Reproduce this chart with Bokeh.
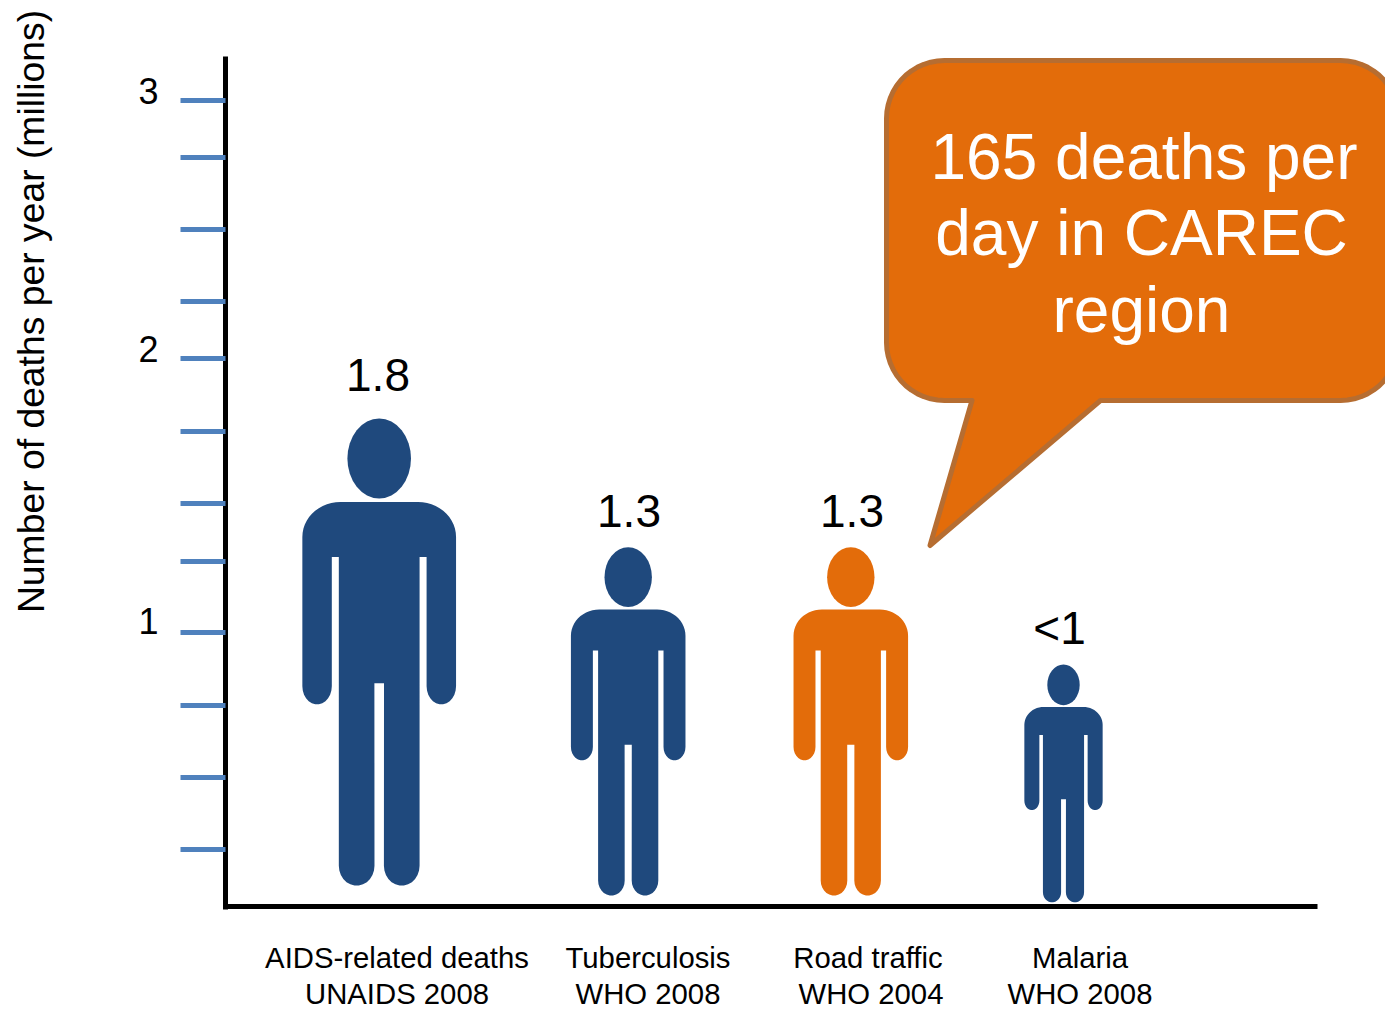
import numpy as np
from bokeh.core.properties import value
from bokeh.embed import file_html
from bokeh.models import FixedTicker
from bokeh.plotting import figure
from bokeh.resources import INLINE

# ---- data (deaths per year, millions) ----
causes = ["AIDS-related deaths", "Tuberculosis", "Road traffic", "Malaria"]
sources = ["UNAIDS 2008", "WHO 2008", "WHO 2004", "WHO 2008"]
value_labels = ["1.8", "1.3", "1.3", "<1"]
figure_tops = [1.78, 1.31, 1.31, 0.883]
figure_bases = [0.076, 0.04, 0.04, 0.015]
y_tick_values = [0.208, 0.471, 0.734, 1.0, 1.259, 1.471, 1.734, 2.0, 2.208, 2.471, 2.734, 2.942]
y_tick_texts = ["3", "2", "1"]
callout_lines = ["165 deaths per", "day in CAREC", "region"]
y_title = "Number of deaths per year (millions)"

# ---- layout ----
FONT = "Liberation Sans"
BLUE = "#1F497D"
ORANGE = "#E36C0A"
TICK_BLUE = "#4F81BD"
PX = 274.0            # pixels per million on the y axis
BASE_PX = 906.0       # page row of the zero line
def yv(px):
    return (BASE_PX - np.asarray(px, dtype=float)) / PX

slot_x = [378.7, 627.7, 850.3, 1063]
slot_color = [BLUE, BLUE, ORANGE, BLUE]
label_x = [377.5, 628.5, 851.5, 1059]
label_base_px = [392, 528, 528, 645]
cause_x = [396.5, 647.5, 867.5, 1079.5]
source_x = [396.5, 647.5, 870.5, 1079.5]

# ---- human pictogram template: half-outline, units of the figure's own height ----
def arc(cx, cy, a, b, t0, t1, n=14):
    t = np.radians(np.linspace(t0, t1, n))
    return list(zip(cx + a * np.cos(t), cy + b * np.sin(t)))

half = [(0, 383)]
half += arc(38.7, 348, 38.0, 35, 90, 0)
half += arc(62, 199, 14.7, 18, 0, -180)
half += [(47.3, 328), (40.3, 328)]
half += arc(22.5, 20, 17.8, 20, 0, -180)
half += [(4.8, 202), (0, 202)]
half = np.array(half) / 466.0
outline_u = np.concatenate([half[:, 0], -half[::-1, 0]])
outline_v = np.concatenate([half[:, 1], half[::-1, 1]])

p = figure(width=1385, height=1011, x_range=(0, 1385), y_range=(float(yv(1011)), float(yv(0))),
           min_border=0, toolbar_location=None, output_backend="svg", outline_line_color=None,
           background_fill_color="white", border_fill_color="white")
p.grid.visible = False

# y axis
ax = p.yaxis[0]
ax.fixed_location = 224.7
ax.ticker = FixedTicker(ticks=y_tick_values)
ax.major_label_text_font_size = "0px"
ax.major_label_text_color = None
ax.major_tick_in = 0
ax.major_tick_out = 45
ax.minor_tick_in = 0
ax.minor_tick_out = 0
ax.major_tick_line_color = TICK_BLUE
ax.major_tick_line_width = 5
ax.axis_line_color = "black"
ax.axis_line_width = 5
ax.bounds = (float(yv(908.5)), float(yv(56)))

# x axis
bx = p.xaxis[0]
bx.fixed_location = 0
bx.ticker = FixedTicker(ticks=[])
bx.major_label_text_color = None
bx.major_tick_in = 0
bx.major_tick_out = 0
bx.minor_tick_in = 0
bx.minor_tick_out = 0
bx.axis_line_color = "black"
bx.axis_line_width = 5
bx.bounds = (222.5, 1317)

# pictograms
xs, ys, cols = [], [], []
hx, hy, hw, hh = [], [], [], []
for cx, top, base, col in zip(slot_x, figure_tops, figure_bases, slot_color):
    h_px = (top - base) * PX
    xs.append(cx + outline_u * h_px)
    ys.append(base + outline_v * (top - base))
    cols.append(col)
    hx.append(cx)
    hy.append(base + 0.915 * (top - base))
    hw.append(0.1362 * h_px)
    hh.append(0.1712 * (top - base))
p.patches(xs, ys, fill_color=cols, line_color=None)
p.ellipse(x=hx, y=hy, width=hw, height=hh, fill_color=cols, line_color=None)

BASE_SHIFT = 0.38     # this renderer draws "alphabetic" text lower by this share of its size
def text(x, y_px, txt, size, color="black", baseline="alphabetic", **kw):
    y_px = np.asarray(y_px, dtype=float)
    if baseline == "alphabetic":
        y_px = y_px - BASE_SHIFT * size
    p.text(x=x, y=list(yv(y_px)), text=txt, text_font=value(FONT), text_font_size=f"{size}px",
           text_color=color, text_align="center", text_baseline=baseline, **kw)

# value labels
text(label_x, label_base_px, value_labels, 46)

# category labels
text(cause_x, [968.5] * 4, causes, 29.3)
text(source_x, [1004.5] * 4, sources, 29.3)

# callout
L, R, T, B, RAD = 886.0, 1398.0, 60.0, 400.0, 58.0
cpts = []
cpts += arc(L + RAD, T + RAD, RAD, -RAD, 180, 90)
cpts += arc(R - RAD, T + RAD, RAD, -RAD, 90, 0)
cpts += arc(R - RAD, B - RAD, RAD, RAD, 0, 90)
cpts += [(1100, B), (929.5, 545), (971.5, B)]
cpts += arc(L + RAD, B - RAD, RAD, RAD, 90, 180)
cpts = np.array(cpts)
p.patch(cpts[:, 0], yv(cpts[:, 1]), fill_color=ORANGE, line_color="#B66D31", line_width=5,
        line_join="round")
text([1143.5, 1141, 1141], [180.5, 257, 333.5], callout_lines, 64, color="white")

# numbered tick labels and rotated axis title
text([148] * 3, [104, 362, 634], y_tick_texts, 36)
text([30.5], [311], [y_title], 37.3, baseline="middle", angle=np.pi / 2)

open("out.html", "w").write(file_html(p, INLINE))
